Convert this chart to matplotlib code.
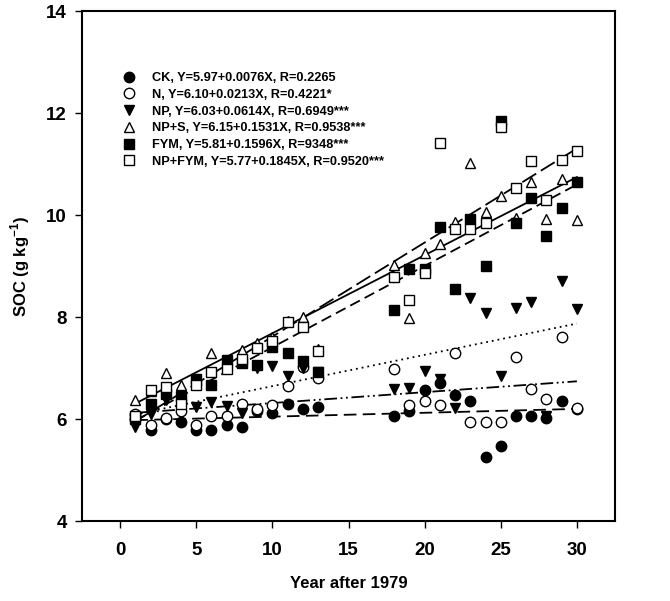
import numpy as np
import matplotlib
matplotlib.use('Agg')
import matplotlib.pyplot as plt
from matplotlib.lines import Line2D

plt.rcParams['font.family'] = ['Liberation Sans', 'DejaVu Sans']
plt.rcParams['font.weight'] = 'bold'
plt.rcParams['mathtext.fontset'] = 'custom'
plt.rcParams['mathtext.rm'] = 'Liberation Sans:bold'
plt.rcParams['mathtext.bf'] = 'Liberation Sans:bold'

years = [1, 2, 3, 4, 5, 6, 7, 8, 9, 10, 11, 12, 13,
         18, 19, 20, 21, 22, 23, 24, 25, 26, 27, 28, 29, 30]

ck = [6.00, 5.78, 6.00, 5.95, 5.78, 5.78, 5.88, 5.85, 6.15, 6.11, 6.30, 6.20, 6.23,
      6.05, 6.15, 6.57, 6.70, 6.47, 6.36, 5.25, 5.48, 6.05, 6.05, 6.02, 6.35, 6.20]
n = [6.10, 5.88, 6.01, 6.15, 5.88, 6.06, 6.06, 6.30, 6.20, 6.27, 6.65, 7.02, 6.80,
     6.99, 6.28, 6.36, 6.27, 7.29, 5.95, 5.95, 5.95, 7.21, 6.58, 6.39, 7.61, 6.22]
np_ = [5.85, 6.10, 6.37, 6.35, 6.24, 6.34, 6.25, 6.11, 7.00, 7.03, 6.84, 7.00, 6.93,
       6.58, 6.60, 6.95, 6.78, 6.21, 8.37, 8.07, 6.84, 8.18, 8.30, 6.05, 8.71, 8.15]
nps = [6.37, 6.55, 6.90, 6.67, 6.72, 7.29, 7.05, 7.35, 7.50, 7.60, 7.92, 8.00, 7.37,
       9.02, 7.99, 9.26, 9.44, 9.87, 11.01, 10.06, 10.38, 9.95, 10.65, 9.93, 10.70, 9.90]
fym = [6.00, 6.30, 6.50, 6.45, 6.78, 6.67, 7.16, 7.09, 7.05, 7.42, 7.29, 7.14, 6.93,
       8.13, 8.95, 8.95, 9.77, 8.55, 9.93, 9.00, 11.85, 9.85, 10.34, 9.58, 10.13, 10.65]
npfym = [6.05, 6.57, 6.62, 6.30, 6.67, 6.93, 6.99, 7.18, 7.39, 7.52, 7.91, 7.81, 7.34,
         8.78, 8.33, 8.86, 11.42, 9.72, 9.72, 9.85, 11.72, 10.52, 11.05, 10.29, 11.08, 11.25]

labels = ['CK, Y=5.97+0.0076X, R=0.2265',
          'N, Y=6.10+0.0213X, R=0.4221*',
          'NP, Y=6.03+0.0614X, R=0.6949***',
          'NP+S, Y=6.15+0.1531X, R=0.9538***',
          'FYM, Y=5.81+0.1596X, R=9348***',
          'NP+FYM, Y=5.77+0.1845X, R=0.9520***']
intercepts = [5.97, 6.10, 6.03, 6.15, 5.81, 5.77]
slopes = [0.0076, 0.0213, 0.0614, 0.1531, 0.1596, 0.1845]

series = [ck, n, np_, nps, fym, npfym]
markers = ['o', 'o', 'v', '^', 's', 's']
faces = ['black', 'white', 'black', 'white', 'black', 'white']
line_styles = [(0, (7, 3.5)), (0, (7, 2, 1, 2, 1, 2)), (0, (1, 2.2)),
               '-', (0, (6, 3)), (0, (9, 3))]

fig = plt.figure(figsize=(6.7, 6.01), dpi=100)
ax = fig.add_axes([82 / 670, 80 / 601, 533 / 670, 510 / 601])

xfit = np.array([1, 30])
for a, b, ls in zip(intercepts, slopes, line_styles):
    ax.plot(xfit, a + b * xfit, color='black', lw=1.3, linestyle=ls, zorder=2)

handles = []
for vals, m, fc, lab in zip(series, markers, faces, labels):
    ax.plot(years, vals, linestyle='none', marker=m, ms=7.5, mfc=fc,
            mec='black', mew=1.0, zorder=3)
    handles.append(Line2D([], [], linestyle='none', marker=m, ms=7.5, mfc=fc,
                          mec='black', mew=1.0, label=lab))

ax.legend(handles=handles, loc='upper left', bbox_to_anchor=(0.076, 0.88),
          frameon=False, fontsize=9.2, handlelength=1.0, handletextpad=1.3,
          labelspacing=0.37, borderpad=0, borderaxespad=0)

ax.set_xlim(-2.5, 32.5)
ax.set_ylim(4, 14)
ax.set_xticks(range(0, 31, 5))
ax.set_yticks(range(4, 15, 2))
ax.tick_params(direction='out', length=5, width=1, labelsize=13.5)
ax.tick_params(axis='x', pad=10)
ax.tick_params(axis='y', pad=6)
for s in ax.spines.values():
    s.set_linewidth(1.5)

ax.set_xlabel('Year after 1979', fontsize=12, fontweight='bold', labelpad=12)
ax.set_ylabel(r'SOC (g kg$^{\mathbf{-1}}$)', fontsize=12, fontweight='bold', labelpad=10)

fig.savefig('out.png', dpi=100)
